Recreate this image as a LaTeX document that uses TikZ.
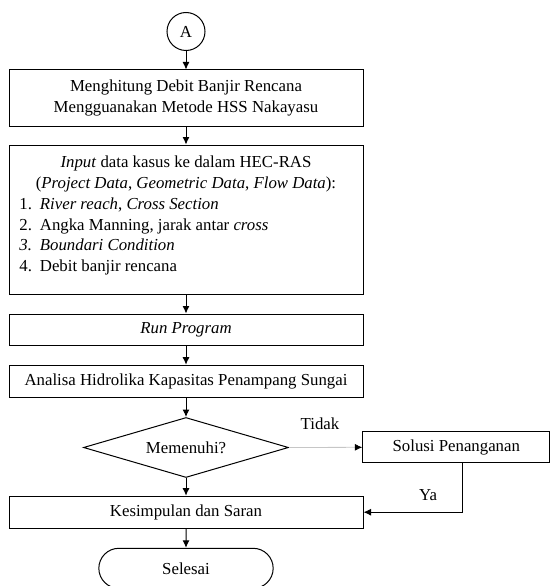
\documentclass[tikz,border=0pt]{standalone}
\usepackage{fontspec}
\setmainfont{Liberation Serif}
\usetikzlibrary{arrows.meta,shapes.geometric,shapes.misc}

\tikzset{
  txt/.style={font=\fontsize{16.8}{20.8}\selectfont},
  box/.style={draw,line width=1pt,txt,minimum width=354pt,align=center},
  sidebox/.style={draw,line width=1pt,txt,minimum width=187pt,minimum height=31pt},
  decision/.style={draw,diamond,line width=1pt,txt,inner sep=0pt,aspect=3.4,minimum width=205pt,minimum height=60pt},
  endbox/.style={draw,rounded rectangle,line width=1pt,txt,minimum width=181pt,minimum height=40pt},
  connect/.style={draw,circle,line width=1pt,txt,minimum size=38pt,inner sep=0pt},
  arrow/.style={line width=1pt,-{Latex[length=7.5pt,width=7pt]}},
  lightarrow/.style={gray!45,line width=0.8pt,-{Latex[length=7.5pt,width=7pt,color=black]}}
}

\begin{document}
\begin{tikzpicture}[x=1pt,y=-1pt]
  \useasboundingbox (0,0) rectangle (551,586);

  \node[connect] (conA) at (186,31.5) {A};
  \node[box,minimum height=56pt] (hitung) at (186,98)
    {Menghitung Debit Banjir Rencana\\Mengguanakan Metode HSS Nakayasu};
  \node[box,minimum height=149pt] (input) at (186,219.5) {};
  \node[txt,align=center,inner sep=0pt,anchor=north] (inputhead) at (186,156)
    {\textit{Input} data kasus ke dalam HEC-RAS\\
     (\textit{Project Data}, \textit{Geometric Data}, \textit{Flow Data}):};
  \node[txt,align=left,inner sep=0pt,anchor=north west] (inputlist) at (19.3,197.5)
    {\makebox[20.4pt][l]{1.}\textit{River reach}, \textit{Cross Section}\\
     \makebox[20.4pt][l]{2.}Angka Manning, jarak antar \textit{cross}\\
     \makebox[20.4pt][l]{\textit{3.}}\textit{Boundari Condition}\\
     \makebox[20.4pt][l]{4.}Debit banjir rencana};
  \node[box,minimum height=31pt] (run) at (186,329.5) {\textit{Run Program}};
  \node[box,minimum height=32pt] (analisa) at (186,381.2)
    {Analisa Hidrolika Kapasitas Penampang Sungai};
  \node[decision] (cek) at (186,447.5) {Memenuhi?};
  \node[sidebox] (solusi) at (456.3,447.3) {Solusi Penanganan};
  \node[box,minimum height=32pt] (simpulan) at (186,512.2) {Kesimpulan dan Saran};
  \node[endbox] (selesai) at (186,568.3) {Selesai};

  \node[txt] (tidak) at (320,423.3) {Tidak};
  \node[txt] (ya) at (428,495) {Ya};

  % main column
  \draw[arrow] (conA) -- (hitung);
  \draw[arrow] (hitung) -- (input);
  \draw[arrow] (input) -- (run);
  \draw[arrow] (run) -- (analisa);
  \draw[arrow] (analisa) -- (cek);
  \draw[arrow] (cek) -- (simpulan);
  \draw[arrow] (simpulan) -- (selesai);

  % side branch
  \draw[lightarrow] (cek.east) -- (solusi.west);
  \draw[arrow] ([xshift=6.4pt]solusi.south) |- (simpulan.east);
\end{tikzpicture}
\end{document}
